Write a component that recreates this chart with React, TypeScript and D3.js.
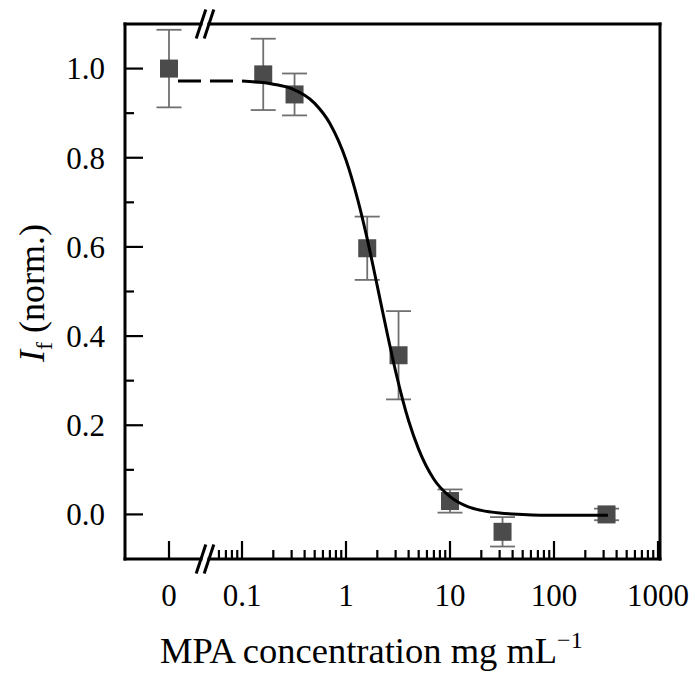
import React from "react";
import * as d3 from "d3";

const concentration = [0, 0.16, 0.32, 1.6, 3.2, 10, 32, 320];
const intensity = [1.0, 0.987, 0.942, 0.597, 0.357, 0.03, -0.039, 0.0];
const errorBar = [0.087, 0.08, 0.047, 0.071, 0.099, 0.026, 0.033, 0.013];

const fitX = [0.1, 0.2, 0.3, 0.5, 0.7, 1.0, 1.3, 1.6, 2.0, 2.5, 3.0, 4.0, 5.0, 7.0, 10, 15, 20, 30, 50, 100, 330];
const fitY = [0.972, 0.965, 0.955, 0.922, 0.877, 0.795, 0.705, 0.618, 0.512, 0.404, 0.321, 0.21, 0.146, 0.079, 0.04, 0.017, 0.009, 0.003, 0.0, -0.002, -0.002];

const yMajorTicks = [0, 0.2, 0.4, 0.6, 0.8, 1.0];
const yTickLabels = ["0.0", "0.2", "0.4", "0.6", "0.8", "1.0"];
const yMinorTicks = [0.1, 0.3, 0.5, 0.7, 0.9];
const xLogMajorTicks = [0.1, 1, 10, 100, 1000];
const xLogTickLabels = ["0.1", "1", "10", "100", "1000"];
const xLinTicks = [0];
const xLinTickLabels = ["0"];

const W = 693;
const H = 673;
const L = 125, R = 660, T = 24, B = 559;
const BREAK1 = 201, BREAK2 = 209;
const FONT = "Liberation Serif";

export default function App() {
  const y = d3.scaleLinear().domain([-0.1, 1.1]).range([B, T]);
  const xLin = d3.scaleLinear().domain([-1, 1]).range([L, 213]);
  const xLog = d3.scaleLog().domain([0.05, 1000]).range([210.7, 658]);
  const xPos = (v: number) => (v <= 0 ? xLin(v) : xLog(v));

  const minorLog: number[] = [];
  [0.01, 0.1, 1, 10, 100].forEach((d) => {
    for (let k = 2; k <= 9; k++) {
      const v = k * d;
      if (v > 0.055 && v < 1000) minorLog.push(v);
    }
  });

  const line = d3
    .line<number>()
    .x((_, i) => xLog(fitX[i]))
    .y((_, i) => y(fitY[i]))
    .curve(d3.curveMonotoneX);

  const sq = 18;
  const cap = 12.5;
  const majorLen = 18;
  const minorLen = 9;

  const slash = (cx: number, cy: number, key: string) => (
    <line key={key} x1={cx - 4.8} y1={cy + 14.5} x2={cx + 4.8} y2={cy - 14.5} stroke="#000" strokeWidth={3} />
  );

  const textStyle = { fontFamily: FONT };

  return (
    <svg width={W} height={H} style={{ position: "absolute", left: 0, top: 0, background: "#fff" }}>
      <rect x={0} y={0} width={W} height={H} fill="#fff" />
      {yMajorTicks.map((t) => (
        <line key={"ym" + t} x1={L} x2={L + majorLen} y1={y(t)} y2={y(t)} stroke="#000" strokeWidth={2.2} />
      ))}
      {yMinorTicks.map((t) => (
        <line key={"yn" + t} x1={L} x2={L + minorLen} y1={y(t)} y2={y(t)} stroke="#000" strokeWidth={2.2} />
      ))}
      {xLinTicks.map((t) => (
        <line key={"xl" + t} x1={xLin(t)} x2={xLin(t)} y1={B} y2={B - majorLen} stroke="#000" strokeWidth={2.2} />
      ))}
      {xLogMajorTicks.map((t) => (
        <line key={"xm" + t} x1={xLog(t)} x2={xLog(t)} y1={B} y2={B - majorLen} stroke="#000" strokeWidth={2.2} />
      ))}
      {minorLog.map((t) => (
        <line key={"xn" + t} x1={xLog(t)} x2={xLog(t)} y1={B} y2={B - minorLen} stroke="#000" strokeWidth={2.2} />
      ))}

      {concentration.map((c, i) => {
        const cx = xPos(c);
        return (
          <g key={"e" + i} stroke="#707070" strokeWidth={1.8}>
            <line x1={cx} x2={cx} y1={y(intensity[i] + errorBar[i])} y2={y(intensity[i] - errorBar[i])} />
            <line x1={cx - cap} x2={cx + cap} y1={y(intensity[i] + errorBar[i])} y2={y(intensity[i] + errorBar[i])} />
            <line x1={cx - cap} x2={cx + cap} y1={y(intensity[i] - errorBar[i])} y2={y(intensity[i] - errorBar[i])} />
          </g>
        );
      })}
      {concentration.map((c, i) => (
        <rect key={"s" + i} x={xPos(c) - sq / 2} y={y(intensity[i]) - sq / 2} width={sq} height={sq} fill="#4b4b4b" />
      ))}

      <line
        x1={xLin(0) + sq / 2}
        x2={xLog(fitX[0])}
        y1={y(fitY[0])}
        y2={y(fitY[0])}
        stroke="#000"
        strokeWidth={3}
        strokeDasharray="23 9"
      />
      <path d={line(fitX) || ""} fill="none" stroke="#000" strokeWidth={3} />

      <g stroke="#000" strokeWidth={3} strokeLinecap="square" fill="none">
        <line x1={L} x2={L} y1={T} y2={B} />
        <line x1={R} x2={R} y1={T} y2={B} />
        <line x1={L} x2={BREAK1} y1={T} y2={T} />
        <line x1={BREAK2} x2={R} y1={T} y2={T} />
        <line x1={L} x2={BREAK1} y1={B} y2={B} />
        <line x1={BREAK2} x2={R} y1={B} y2={B} />
      </g>
      {slash(BREAK1, T, "st1")}
      {slash(BREAK2, T, "st2")}
      {slash(BREAK1, B, "sb1")}
      {slash(BREAK2, B, "sb2")}

      <g style={textStyle} fontSize={31} fill="#000">
        {yMajorTicks.map((t, i) => (
          <text key={"yl" + t} x={105} y={y(t)} dy="0.35em" textAnchor="end" style={textStyle}>
            {yTickLabels[i]}
          </text>
        ))}
        {xLinTicks.map((t, i) => (
          <text key={"xll" + t} x={xLin(t)} y={606} textAnchor="middle" style={textStyle}>
            {xLinTickLabels[i]}
          </text>
        ))}
        {xLogMajorTicks.map((t, i) => (
          <text key={"xlg" + t} x={xLog(t)} y={606} textAnchor="middle" style={textStyle}>
            {xLogTickLabels[i]}
          </text>
        ))}
      </g>

      <text x={160} y={663} style={textStyle} fontSize={36.5} fill="#000">
        MPA concentration mg mL
        <tspan fontSize={24} dy={-15}>−1</tspan>
      </text>
      <text
        transform={`translate(44, 293) rotate(-90)`}
        textAnchor="middle"
        style={textStyle}
        fontSize={36}
        fill="#000"
      >
        <tspan fontStyle="italic">I</tspan>
        <tspan fontSize={24} dy={8}>f</tspan>
        <tspan dy={-8}> (norm.)</tspan>
      </text>
    </svg>
  );
}
